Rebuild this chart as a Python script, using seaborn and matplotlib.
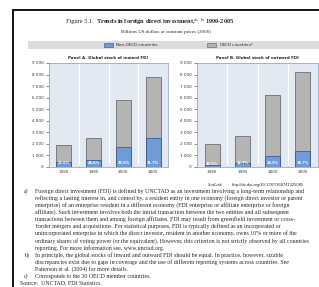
import matplotlib
matplotlib.use("Agg")
import matplotlib.pyplot as plt
import matplotlib.patches as mpatches
from matplotlib.lines import Line2D
import seaborn as sns

# data (billions USD, constant 2000 prices)
years = ["1990", "1995", "2000", "2005"]
inward_total = [1900, 2550, 5800, 7800]
inward_non_oecd = [450, 630, 1730, 2480]
inward_share = ["23.6%", "24.6%", "29.6%", "31.7%"]
outward_total = [2000, 2700, 6200, 8250]
outward_non_oecd = [200, 340, 930, 1380]
outward_share = ["10.2%", "12.7%", "14.9%", "16.7%"]
y_ticks = [0, 1000, 2000, 3000, 4000, 5000, 6000, 7000, 8000, 9000]

footnotes = [
    ("a)", "Foreign direct investment (FDI) is defined by UNCTAD as an investment involving a long-term relationship and"),
    ("", "reflecting a lasting interest in, and control by, a resident entity in one economy (foreign direct investor or parent"),
    ("", "enterprise) of an enterprise resident in a different economy (FDI enterprise or affiliate enterprise or foreign"),
    ("", "affiliate). Such investment involves both the initial transaction between the two entities and all subsequent"),
    ("", "transactions between them and among foreign affiliates. FDI may result from greenfield investment or cross-"),
    ("", "border mergers and acquisitions. For statistical purposes, FDI is typically defined as an incorporated or"),
    ("", "unincorporated enterprise in which the direct investor, resident in another economy, owns 10% or more of the"),
    ("", "ordinary shares of voting power (or the equivalent). However, this criterion is not strictly observed by all countries"),
    ("", "reporting. For more information see, www.unctad.org."),
    ("b)", "In principle, the global stocks of inward and outward FDI should be equal. In practice, however, sizable"),
    ("", "discrepancies exist due to gaps in coverage and the use of different reporting systems across countries. See"),
    ("", "Patterson et al. (2004) for more details."),
    ("c)", "Corresponds to the 30 OECD member countries."),
]

GRAY = "#b4b4b4"
GRAY_EDGE = "#5a5a5a"
BLUE = "#6f9bd8"
BLUE_EDGE = "#2c4f86"
FACE = "#e3e9f3"

sns.set_theme(style="white")
plt.rcParams["font.family"] = ["DejaVu Sans"]

W, H = 319, 287
fig = plt.figure(figsize=(W / 100, H / 100), dpi=100)
fig.patch.set_facecolor("white")


def fx(px):
    return px / W


def fy(py):
    return 1 - py / H


# page border (top and left)
fig.add_artist(Line2D([fx(13), 1], [fy(10), fy(10)], color="black", lw=1.3))
fig.add_artist(Line2D([fx(13), fx(13)], [fy(10), 0], color="black", lw=1.3))

# titles
fig.text(fx(66), fy(22), "Figure 5.1.", fontsize=4.6, family="Liberation Serif", va="center")
fig.text(fx(96), fy(22), "Trends in foreign direct investment,$^{a,\\ b}$ 1990-2005",
         fontsize=4.6, family="Liberation Serif", weight="bold", va="center")
fig.text(fx(166), fy(32), "Billions US dollars at constant prices (2000)",
         fontsize=3.6, family="Liberation Serif", ha="center", va="center")

# legend band
fig.add_artist(mpatches.Rectangle((fx(28), fy(49)), 1, 8 / H, transform=fig.transFigure,
                                  facecolor="#dcdcdc", edgecolor="none"))
fig.add_artist(mpatches.Rectangle((fx(104), fy(46.5)), 9 / W, 3.5 / H, transform=fig.transFigure,
                                  facecolor=BLUE, edgecolor=BLUE_EDGE, lw=0.4))
fig.text(fx(116), fy(45), "Non-OECD countries", fontsize=2.9, va="center")
fig.add_artist(mpatches.Rectangle((fx(207), fy(46.5)), 9 / W, 3.5 / H, transform=fig.transFigure,
                                  facecolor=GRAY, edgecolor=GRAY_EDGE, lw=0.4))
fig.text(fx(219), fy(45), "OECD countries$^{c}$", fontsize=2.9, va="center")


def panel(left, width, total, non_oecd, share, title):
    ax = fig.add_axes([fx(left), fy(167), fx(width), 104 / H])
    ax.set_facecolor(FACE)
    sns.barplot(x=years, y=total, color=GRAY, width=0.5, edgecolor=GRAY_EDGE,
                linewidth=0.5, saturation=1, ax=ax)
    sns.barplot(x=years, y=non_oecd, color=BLUE, width=0.5, edgecolor=BLUE_EDGE,
                linewidth=0.5, saturation=1, ax=ax)
    for i, (v, s) in enumerate(zip(non_oecd, share)):
        ax.text(i, min(v / 2, 180), s, ha="center", va="bottom", fontsize=2.5,
                color="white", weight="bold")
    for b in [0.5, 1.5, 2.5]:
        ax.axvline(b, color="white", lw=0.8, zorder=0)
        ax.plot([b, b], [0, 120], color="#555555", lw=0.4)
    ax.set_xlim(-0.5, 3.5)
    ax.set_ylim(0, 9000)
    ax.set_yticks(y_ticks)
    ax.set_yticklabels([f"{t:,}".replace(",", " ") for t in y_ticks])
    ax.tick_params(axis="y", labelsize=3.0, length=2, width=0.4, pad=2, left=True, colors="#333333")
    ax.tick_params(axis="x", labelsize=3.0, length=0, pad=2, colors="#333333")
    ax.set_xlabel("")
    ax.set_ylabel("")
    for sp in ax.spines.values():
        sp.set_color("#9aa8c0")
        sp.set_linewidth(0.6)
    ax.set_title(title, fontsize=2.9, weight="bold", pad=3, color="#222222")
    return ax


panel(49, 119, inward_total, inward_non_oecd, inward_share,
      "Panel A. Global stock of inward FDI")
panel(197, 121, outward_total, outward_non_oecd, outward_share,
      "Panel B. Global stock of outward FDI")

# statlink
fig.text(fx(208), fy(185), "StatLink", fontsize=3.2, style="italic", va="center",
         family="Liberation Serif")
fig.text(fx(232), fy(185), "http://dx.doi.org/10.1787/368741325085",
         fontsize=3.0, va="center", family="Liberation Sans")

# footnotes
y0, step = 191, 7.1
for i, (lab, line) in enumerate(footnotes):
    y = y0 + i * step
    if lab:
        fig.text(fx(24), fy(y), lab, fontsize=4.2, family="Liberation Serif", va="center")
    fig.text(fx(35), fy(y), line, fontsize=4.2, family="Liberation Serif", va="center")
fig.text(fx(20), fy(y0 + len(footnotes) * step), "Source:  UNCTAD, FDI Statistics.",
         fontsize=4.2, family="Liberation Serif", va="center")

fig.savefig("out.png", dpi=100)
